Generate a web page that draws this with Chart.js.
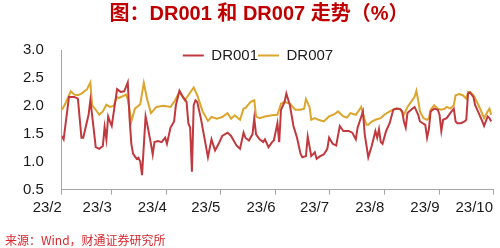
<!DOCTYPE html>
<html>
<head>
<meta charset="utf-8">
<script src="https://cdn.jsdelivr.net/npm/chart.js@4"></script>
<style>
  html, body { margin: 0; padding: 0; background: #fff; }
  #wrap { width: 500px; height: 248px; }
</style>
</head>
<body>
<div id="wrap"><canvas id="rateChart"></canvas></div>
<script>
// DR001 (date M/D in 2023, rate %)
var dr001Dates = ['2/1','2/2','2/5','2/8','2/10','2/12','2/13','2/16','2/17','2/19','2/20','2/22','2/24','2/25','2/26','2/27','2/28',
    '3/1','3/4','3/6','3/8','3/10','3/11','3/12','3/13','3/15','3/16','3/17','3/18','3/20','3/21','3/23','3/24','3/25','3/27','3/29','3/31',
    '4/1','4/3','4/5','4/6','4/8','4/10','4/12','4/13','4/14','4/15','4/16','4/17','4/18','4/20','4/22','4/24','4/26','4/28','4/30',
    '5/2','5/5','5/7','5/10','5/12','5/14','5/15','5/17','5/19','5/20','5/21','5/23','5/25','5/26','5/28','5/30','5/31',
    '6/2','6/3','6/4','6/6','6/7','6/9','6/11','6/13','6/15','6/16','6/18','6/19','6/21','6/23','6/24','6/26','6/28','6/30',
    '7/1','7/3','7/5','7/7','7/9','7/12','7/14','7/16','7/17','7/20','7/21','7/23','7/25','7/27','7/28','7/29','7/30','7/31',
    '8/2','8/4','8/6','8/8','8/10','8/11','8/12','8/13','8/14','8/16','8/18','8/20','8/21','8/24','8/25','8/26','8/27','8/29','8/31',
    '9/1','9/2','9/3','9/5','9/7','9/9','9/10','9/11','9/13','9/15','9/16','9/17','9/18','9/20','9/21','9/23','9/25','9/26','9/28','9/29','9/30'];
var dr001 = [1.46,1.40,2.16,2.16,2.13,1.43,1.43,1.84,2.10,1.55,1.26,1.23,1.28,1.62,1.40,1.81,1.72,
    1.64,2.30,2.25,2.26,2.42,1.78,1.32,1.14,1.05,1.07,1.00,0.76,1.81,1.66,1.32,1.13,1.35,1.37,1.35,1.43,
    1.32,1.61,1.72,2.01,2.27,2.16,2.07,1.69,1.61,0.82,2.01,2.10,2.07,1.78,1.43,1.08,1.40,1.20,1.32,
    1.46,1.52,1.46,1.29,1.23,1.52,1.43,1.38,1.49,1.78,1.49,1.40,1.35,1.40,1.26,1.35,1.38,
    1.69,1.35,1.93,2.07,2.22,2.01,1.64,1.43,1.14,1.08,1.10,1.45,1.10,1.17,1.05,1.10,1.13,1.23,
    1.43,1.32,1.29,1.64,1.55,1.55,1.52,1.40,1.61,1.90,1.49,1.08,1.29,1.55,1.43,1.58,1.35,1.32,
    1.55,1.69,1.93,1.95,1.94,1.90,1.72,1.61,1.87,1.93,1.98,1.84,1.72,1.66,1.43,1.58,1.90,1.95,1.93,
    1.84,1.55,1.75,1.78,1.87,1.95,1.72,1.69,1.69,1.72,1.75,2.22,2.24,2.16,2.01,1.87,1.72,1.64,1.81,1.78,1.72];

// DR007
var dr007Dates = ['2/1','2/3','2/6','2/8','2/10','2/12','2/14','2/15','2/17','2/18','2/20','2/22','2/24','2/26','2/28',
    '3/2','3/4','3/5','3/9','3/10','3/12','3/14','3/16','3/17','3/19','3/21','3/23','3/24','3/26','3/30',
    '4/3','4/5','4/8','4/11','4/13','4/16','4/18','4/21','4/24','4/26','4/29',
    '5/2','5/5','5/7','5/9','5/12','5/14','5/15','5/18','5/20','5/21','5/23','5/26','5/30',
    '6/2','6/4','6/6','6/9','6/12','6/15','6/17','6/18','6/20','6/21','6/23','6/25','6/28',
    '7/1','7/4','7/6','7/9','7/11','7/13','7/16','7/18','7/19','7/21','7/22','7/23','7/25','7/27','7/30',
    '8/1','8/4','8/7','8/9','8/10','8/12','8/14','8/16','8/18','8/19','8/20','8/21','8/23','8/25','8/26','8/27','8/29','8/31',
    '9/2','9/4','9/5','9/7','9/9','9/10','9/12','9/14','9/16','9/17','9/18','9/20','9/22','9/24','9/26','9/28','9/29','9/30'];
var dr007 = [1.93,2.04,2.26,2.20,2.19,2.22,2.27,2.29,2.42,2.01,1.93,1.84,1.90,2.02,1.98,
    2.00,2.16,2.14,2.20,2.12,1.72,1.95,2.00,2.03,2.41,2.10,1.87,1.90,1.98,2.00,
    1.98,2.07,2.25,2.10,2.19,2.33,2.19,1.90,1.73,1.80,1.77,
    1.80,1.87,1.77,1.83,1.75,1.95,1.96,2.07,2.10,1.81,1.78,1.81,1.83,
    1.84,2.04,2.07,2.04,1.93,1.93,1.95,2.12,1.98,1.75,1.78,1.75,1.72,
    1.81,1.85,1.90,1.81,1.79,1.87,1.84,1.93,1.98,1.75,1.66,1.66,1.72,1.75,1.78,
    1.84,1.90,1.95,1.95,1.93,1.84,1.98,2.07,2.16,2.27,2.10,1.90,1.78,1.75,1.78,1.93,2.01,1.95,
    1.93,1.95,1.98,1.95,2.01,2.19,2.21,2.19,2.13,2.25,2.25,2.19,2.07,1.93,1.78,1.90,1.95,1.84];

// x axis ticks: first day of each month, labelled yy/m
var monthStarts = ['2/1','3/1','4/1','5/1','6/1','7/1','8/1','9/1','10/1'];
var monthLabels = ['23/2','23/3','23/4','23/5','23/6','23/7','23/8','23/9','23/10'];
var yTicks = [0.5, 1.0, 1.5, 2.0, 2.5, 3.0];

function toDay(s) {
    var p = s.split('/').map(Number);
    return (Date.UTC(2023, p[0] - 1, p[1]) - Date.UTC(2023, 1, 1)) / 86400000;
}
function toPoints(dates, values) {
    return dates.map(function (d, i) { return { x: toDay(d), y: values[i] }; });
}
var tickDays = monthStarts.map(toDay);

var axisGray = '#A6A6A6';
var textDark = '#1a1a1a';
var sansFamily = '"Liberation Sans", Arial, "Noto Sans CJK SC", sans-serif';

// the legend overlaps the top of the plot in the original, and title/legend sit a bit right of centre
function shiftBox(box, dx, dy) {
    if (!box) return;
    box.left += dx; box.right += dx;
    box.top += dy; box.bottom += dy;
}
var boxNudge = {
    id: 'boxNudge',
    afterLayout: function (chart) {
        shiftBox(chart.legend, 9, 23);
        shiftBox(chart.titleBlock, 10, 0);
    }
};

var ctx = document.getElementById('rateChart').getContext('2d');
new Chart(ctx, {
    type: 'line',
    data: {
        datasets: [{
            label: 'DR001',
            data: toPoints(dr001Dates, dr001),
            borderColor: '#C0393E',
            backgroundColor: '#C0393E',
            borderWidth: 2,
            pointRadius: 0,
            tension: 0,
            fill: false
        }, {
            label: 'DR007',
            data: toPoints(dr007Dates, dr007),
            borderColor: '#DCA52C',
            backgroundColor: '#DCA52C',
            borderWidth: 2,
            pointRadius: 0,
            tension: 0,
            fill: false
        }]
    },
    options: {
        responsive: true,
        maintainAspectRatio: false,
        animation: false,
        layout: { padding: { left: 5, right: 7, top: 0, bottom: 0 } },
        plugins: {
            title: {
                display: true,
                text: '图：DR001 和 DR007 走势（%）',
                color: '#C00000',
                font: { size: 20, weight: 'bold', family: sansFamily, lineHeight: 1.1 },
                padding: { top: 3, bottom: 0 }
            },
            subtitle: {
                display: true,
                position: 'bottom',
                align: 'start',
                text: '来源：Wind，财通证券研究所',
                color: '#D7262C',
                font: { size: 12, family: '"Noto Sans CJK SC", sans-serif' },
                padding: { top: 13, bottom: 0 }
            },
            legend: {
                position: 'top',
                align: 'center',
                labels: {
                    usePointStyle: true,
                    pointStyle: 'line',
                    pointStyleWidth: 21,
                    padding: 0,
                    color: textDark,
                    font: { size: 15, family: sansFamily }
                }
            },
            tooltip: { enabled: false }
        },
        scales: {
            x: {
                type: 'linear',
                min: tickDays[0],
                max: tickDays[tickDays.length - 1],
                afterBuildTicks: function (axis) {
                    axis.ticks = tickDays.map(function (v) { return { value: v }; });
                },
                grid: { display: true, drawOnChartArea: false, drawTicks: true, tickLength: 5, color: axisGray },
                border: { display: true, color: axisGray, width: 1 },
                ticks: {
                    autoSkip: false,
                    maxRotation: 0,
                    align: 'end',
                    padding: 4,
                    color: textDark,
                    font: { size: 15, family: sansFamily },
                    callback: function (v) { return monthLabels[tickDays.indexOf(v)]; }
                }
            },
            y: {
                min: yTicks[0],
                max: yTicks[yTicks.length - 1],
                afterBuildTicks: function (axis) {
                    axis.ticks = yTicks.map(function (v) { return { value: v }; });
                },
                grid: { display: false, drawTicks: false },
                border: { display: true, color: axisGray, width: 1 },
                ticks: {
                    padding: 18,
                    color: textDark,
                    font: { size: 15, family: sansFamily },
                    callback: function (v) { return v.toFixed(1); }
                }
            }
        }
    },
    plugins: [boxNudge]
});
</script>
</body>
</html>
